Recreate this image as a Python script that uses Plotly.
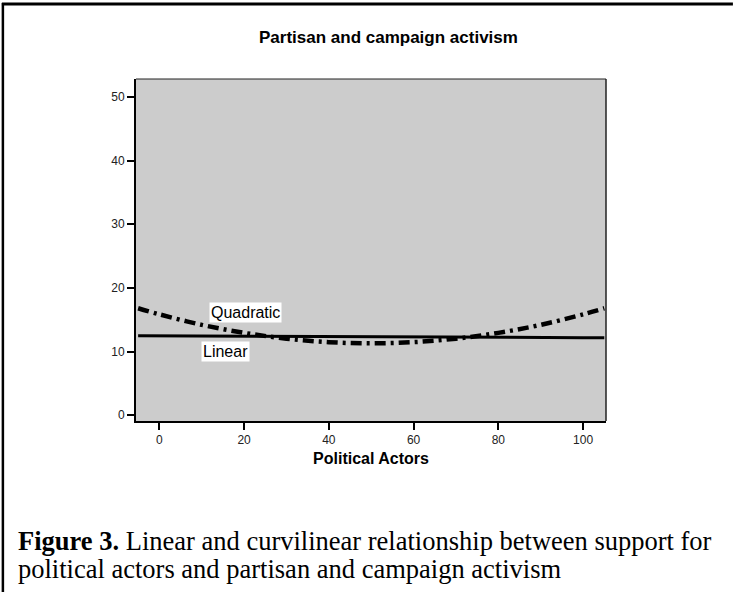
import plotly.graph_objects as go

# Data
x_vals = [-5, 0, 10, 20, 30, 40, 50, 60, 70, 80, 90, 100, 105]
linear_vals = [12.5, 12.48, 12.45, 12.42, 12.39, 12.36, 12.33, 12.3, 12.27, 12.24, 12.21, 12.18, 12.17]
quad_vals = [16.8, 15.85, 14.2, 12.94, 12.03, 11.48, 11.3, 11.48, 12.03, 12.94, 14.2, 15.85, 16.8]
x_ticks = [0, 20, 40, 60, 80, 100]
y_ticks = [0, 10, 20, 30, 40, 50]

W, H = 733, 592
L, R, T, B = 135.7, 606.0, 79.0, 420.7
pw, ph = R - L, B - T

def px(x):
    return (x - L) / pw

def py(y):
    return (B - y) / ph

fig = go.Figure()
fig.add_trace(go.Scatter(x=x_vals, y=linear_vals, mode="lines",
                         line=dict(color="black", width=3), showlegend=False,
                         hoverinfo="skip"))
fig.add_trace(go.Scatter(x=x_vals, y=quad_vals, mode="lines", line_shape="spline",
                         line=dict(color="black", width=4.5, dash="11px,5px,3px,5px"),
                         showlegend=False, hoverinfo="skip"))

font_sans = "Liberation Sans, Arial, sans-serif"
font_serif = "Liberation Serif, Times New Roman, serif"

fig.update_layout(
    width=W, height=H,
    margin=dict(l=L, r=W - R, t=T, b=H - B),
    paper_bgcolor="white", plot_bgcolor="#cccccc",
    xaxis=dict(range=[-5.5, 105.4], tickvals=x_ticks, ticks="outside", ticklen=7,
               tickwidth=2, tickcolor="black", showgrid=False, zeroline=False,
               showline=True, linewidth=2, linecolor="black",
               tickfont=dict(family=font_sans, size=12, color="#222"),
               title=dict(text="<b>Political Actors</b>", standoff=6,
                          font=dict(family=font_sans, size=16, color="black"))),
    yaxis=dict(range=[-0.9, 52.8], tickvals=y_ticks, ticks="outside", ticklen=7,
               tickwidth=2, tickcolor="black", showgrid=False, zeroline=False,
               showline=True, linewidth=2, linecolor="black",
               tickfont=dict(family=font_sans, size=12, color="#222")),
    shapes=[
        # thin top and right plot frame
        dict(type="line", xref="paper", yref="paper", x0=0, x1=1, y0=1, y1=1,
             line=dict(color="#222", width=1)),
        dict(type="line", xref="paper", yref="paper", x0=1, x1=1, y0=0, y1=1,
             line=dict(color="#222", width=1.5)),
        # outer figure border (top and left)
        dict(type="line", xref="paper", yref="paper", x0=px(1.5), x1=px(733), y0=py(4), y1=py(4),
             line=dict(color="black", width=3)),
        dict(type="line", xref="paper", yref="paper", x0=px(2.5), x1=px(2.5), y0=py(3), y1=py(592),
             line=dict(color="black", width=2.5)),
    ],
    annotations=[
        dict(text="<b>Partisan and campaign activism</b>", xref="paper", yref="paper",
             x=px(388), y=py(38), showarrow=False, xanchor="center", yanchor="middle",
             font=dict(family=font_sans, size=17, color="black")),
        dict(text="Quadratic", xref="paper", yref="paper", x=px(245), y=py(312.5),
             showarrow=False, bgcolor="white", borderpad=1,
             xanchor="center", yanchor="middle",
             font=dict(family=font_sans, size=16, color="black")),
        dict(text="Linear", xref="paper", yref="paper", x=px(225.5), y=py(351.5),
             showarrow=False, bgcolor="white", borderpad=1,
             xanchor="center", yanchor="middle",
             font=dict(family=font_sans, size=16, color="black")),
        dict(text="<b>Figure 3.</b> Linear and curvilinear relationship between support for",
             xref="paper", yref="paper", x=px(16), y=py(541), showarrow=False,
             xanchor="left", yanchor="middle",
             font=dict(family=font_serif, size=26.5, color="black")),
        dict(text="political actors and partisan and campaign activism",
             xref="paper", yref="paper", x=px(16), y=py(569), showarrow=False,
             xanchor="left", yanchor="middle",
             font=dict(family=font_serif, size=26.5, color="black")),
    ],
)

fig.write_html("out.html", config={"displayModeBar": False},
               post_script="document.body.style.margin='0px';")
